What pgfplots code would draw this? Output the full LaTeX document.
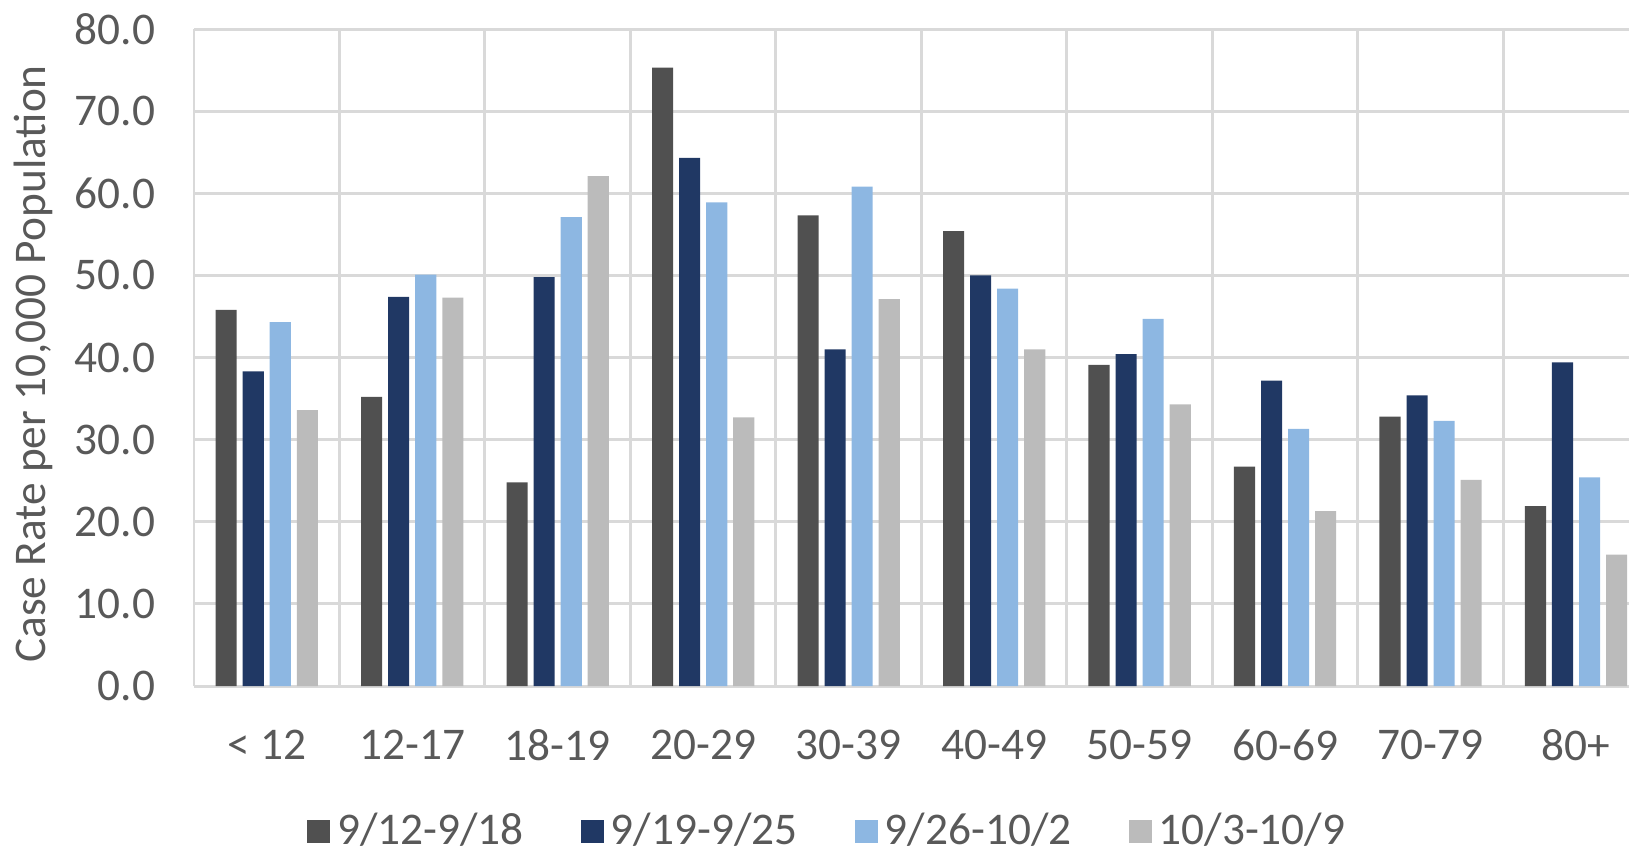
\documentclass[border=0pt]{standalone}
\usepackage{pgfplots}
\pgfplotsset{compat=1.18}
\usepackage{fontspec}
\setmainfont{Carlito}
\definecolor{txt}{HTML}{595959}
\definecolor{wk1}{HTML}{505050}
\definecolor{wk2}{HTML}{203864}
\definecolor{wk3}{HTML}{8DB7E2}
\definecolor{wk4}{HTML}{BBBBBB}
\definecolor{grd}{HTML}{D9D9D9}

\begin{document}
\begin{tikzpicture}
\useasboundingbox (0,0) rectangle (16.29,8.51);
\begin{axis}[
  at={(1.94cm,1.65cm)}, anchor=south west,
  scale only axis, width=14.35cm, height=6.57cm,
  ymin=0, ymax=80, ytick={0,10,...,80},
  xmin=-0.5, xmax=9.364,
  xtick={0,...,9},
  xticklabels={< 12,12-17,18-19,20-29,30-39,40-49,50-59,60-69,70-79,80+},
  minor xtick={-0.5,0.5,...,9.5},
  xminorgrids, ymajorgrids,
  grid style={grd, line width=0.85pt},
  minor grid style={grd, line width=0.85pt},
  major tick length=0pt, minor tick length=0pt,
  axis line style={draw=none},
  tick label style={font=\fontsize{12.9}{14}\selectfont, text=txt},
  yticklabel style={inner sep=0pt, anchor=east, xshift=-0.38cm,
    /pgf/number format/.cd, fixed, fixed zerofill, precision=1, assume math mode=true},
  xticklabel style={inner sep=0pt, anchor=north, yshift=-0.43cm},
  ylabel={Case Rate per 10,000 Population},
  every axis y label/.style={at={(axis description cs:-0.1122,0.49)}, rotate=90, anchor=center,
    font=\fontsize{12.9}{14}\selectfont, text=txt},
  ybar, bar width=0.145,
  legend columns=4,
  legend style={draw=none, at={(0.443,-0.2207)}, anchor=center,
    font=\fontsize{12.9}{14}\selectfont, text=txt,
    /tikz/every even column/.append style={column sep=0.5cm}},
  legend image code/.code={\fill[#1] (0cm,-0.115cm) rectangle (0.23cm,0.115cm);},
]
\addplot[fill=wk1, draw=none, bar shift=-0.279] coordinates {
  (0,45.8)(1,35.2)(2,24.8)(3,75.3)(4,57.3)(5,55.4)(6,39.1)(7,26.7)(8,32.8)(9,21.9)};
\addplot[fill=wk2, draw=none, bar shift=-0.093] coordinates {
  (0,38.3)(1,47.4)(2,49.8)(3,64.3)(4,41.0)(5,50.0)(6,40.4)(7,37.2)(8,35.4)(9,39.4)};
\addplot[fill=wk3, draw=none, bar shift=0.093] coordinates {
  (0,44.3)(1,50.1)(2,57.1)(3,58.9)(4,60.8)(5,48.4)(6,44.7)(7,31.3)(8,32.3)(9,25.4)};
\addplot[fill=wk4, draw=none, bar shift=0.279] coordinates {
  (0,33.6)(1,47.3)(2,62.1)(3,32.7)(4,47.1)(5,41.0)(6,34.3)(7,21.3)(8,25.1)(9,16.0)};
\legend{9/12-9/18, 9/19-9/25, 9/26-10/2, 10/3-10/9}
\end{axis}
\end{tikzpicture}
\end{document}
